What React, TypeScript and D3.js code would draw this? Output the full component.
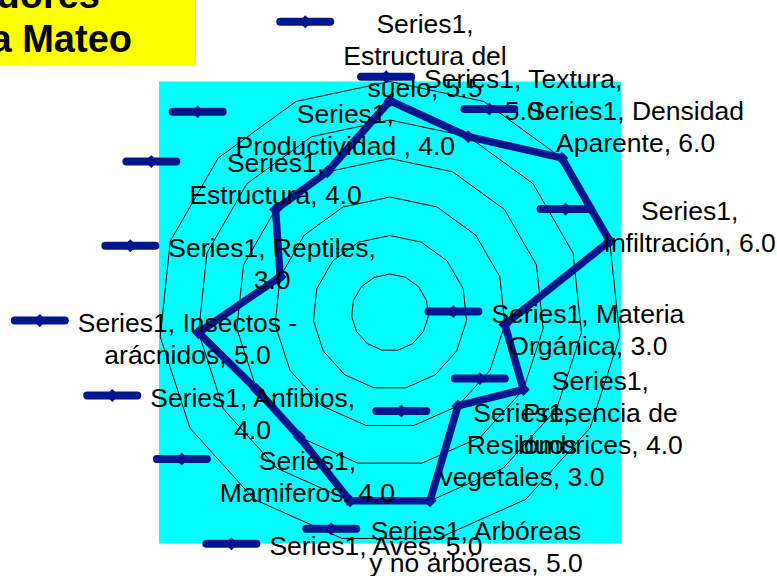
import { useEffect, useRef } from 'react'
import * as d3 from 'd3'

const W = 777
const H = 576

const SERIES = 'Series1'
const CATEGORIES = [
  'Estructura del suelo',
  'Textura',
  'Densidad Aparente',
  'Infiltración',
  'Materia Orgánica',
  'Presencia de lombrices',
  'Residuos vegetales',
  'Arbóreas y no arbóreas',
  'Aves',
  'Mamiferos',
  'Anfibios',
  'Insectos - arácnidos',
  'Reptiles',
  'Estructura',
  'Productividad ',
]
const VALUES = [5.5, 5.0, 6.0, 6.0, 3.0, 4.0, 3.0, 5.0, 5.0, 4.0, 4.0, 5.0, 3.0, 4.0, 4.0]
const RINGS = [1, 2, 3, 4, 5, 6]
const TITLE_LINES = ['Indicadores', 'Finca Mateo']

// words on each line, the way the data labels got wrapped
const LABEL_WRAP = [
  [1, 2, 2], [2, 1], [2, 2], [1, 2], [2, 2], [1, 2, 2], [1, 1, 2], [2, 4],
  [3], [1, 2], [2, 1], [3, 2], [2, 1], [1, 2], [1, 3],
]
// label centre / first baseline, relative to its point
const LABEL_OFFSETS = [
  [35, -68], [55, -49], [74, -38], [80, -21], [83, -2], [77, 0], [64, 16], [46, 39],
  [26, 54], [8, 33], [-4, 17], [-11, -1], [-8, -20], [0, -37], [18, -49],
]

const CENTER = { x: 390, y: 312.5 }
const RADIUS = 231
const LINE_COLOR = '#00168f'
const FONT = "'Liberation Sans', Arial, sans-serif"
const LABEL_SIZE = 26.5
const LINE_H = 32
const KEY_LEN = 58

export default function App() {
  const svgRef = useRef(null)

  useEffect(() => {
    if (!svgRef.current) return
    const svg = d3.select(svgRef.current)
    svg.selectAll('*').remove()

    const n = CATEGORIES.length
    const r = d3.scaleLinear().domain([0, d3.max(RINGS)]).range([0, RADIUS])
    const angle = d3.scaleLinear().domain([0, n]).range([0, 2 * Math.PI])
    const pt = (i, v) => [
      CENTER.x + r(v) * Math.sin(angle(i)),
      CENTER.y - r(v) * Math.cos(angle(i)),
    ]

    // title box (sits partly off the page, as in the original)
    svg.append('rect').attr('x', 0).attr('y', 0).attr('width', 196).attr('height', 65)
      .attr('fill', '#ffff00')
    const titleEnds = [100, 132]
    TITLE_LINES.forEach((t, k) => {
      svg.append('text')
        .attr('x', titleEnds[k]).attr('y', 8 + k * 44)
        .attr('text-anchor', 'end')
        .attr('font-family', FONT).attr('font-size', 38).attr('font-weight', 700)
        .attr('fill', '#000')
        .text(t)
    })

    // plot area
    const rMax = r(d3.max(RINGS))
    svg.append('rect')
      .attr('x', CENTER.x - rMax).attr('y', CENTER.y - rMax)
      .attr('width', rMax * 2).attr('height', rMax * 2)
      .attr('fill', '#00ffff')

    const g = svg.append('g').attr('transform', `translate(${CENTER.x},${CENTER.y})`)
    const idx = d3.range(n)

    // grid rings
    RINGS.forEach(ring => {
      const ringLine = d3.lineRadial()
        .angle(i => angle(i)).radius(() => r(ring))
        .curve(d3.curveLinearClosed)
      g.append('path').attr('d', ringLine(idx))
        .attr('fill', 'none').attr('stroke', '#000').attr('stroke-width', 1)
    })

    // series line
    const dataLine = d3.lineRadial()
      .angle(i => angle(i)).radius(i => r(VALUES[i]))
      .curve(d3.curveLinearClosed)
    g.append('path').attr('d', dataLine(idx))
      .attr('fill', 'none').attr('stroke', LINE_COLOR).attr('stroke-width', 7.5)
      .attr('stroke-linejoin', 'round')

    const diamond = d3.symbol(d3.symbolDiamond2, 108)
    idx.forEach(i => {
      const [x, y] = pt(i, VALUES[i])
      svg.append('path').attr('d', diamond())
        .attr('transform', `translate(${x},${y})`).attr('fill', LINE_COLOR)
    })

    // data labels with legend keys
    idx.forEach(i => {
      const [px, py] = pt(i, VALUES[i])
      const [dx, dy] = LABEL_OFFSETS[i]
      const words = `${SERIES}, ${CATEGORIES[i]}, ${VALUES[i].toFixed(1)}`.split(' ')
      const lines = []
      let w = 0
      LABEL_WRAP[i].forEach(c => {
        lines.push(words.slice(w, w + c).join(' '))
        w += c
      })
      const lg = svg.append('g')
      const txt = lg.append('g')
      lines.forEach((l, k) => {
        txt.append('text')
          .attr('x', px + dx).attr('y', py + dy + k * LINE_H)
          .attr('text-anchor', 'middle')
          .attr('font-family', FONT).attr('font-size', LABEL_SIZE)
          .attr('fill', '#000')
          .text(l)
      })
      const bb = txt.node().getBBox()
      const right = bb.x - 9
      const ky = py + dy - 11
      lg.append('line')
        .attr('x1', right - KEY_LEN + 4).attr('x2', right - 4)
        .attr('y1', ky).attr('y2', ky)
        .attr('stroke', LINE_COLOR).attr('stroke-width', 8).attr('stroke-linecap', 'round')
      lg.append('path').attr('d', diamond())
        .attr('transform', `translate(${right - KEY_LEN / 2},${ky})`).attr('fill', LINE_COLOR)
    })
  }, [])

  return (
    <div>
      <style>{'body{margin:0}'}</style>
      <svg ref={svgRef} width={W} height={H} style={{ display: 'block', background: '#fff' }} />
    </div>
  )
}
